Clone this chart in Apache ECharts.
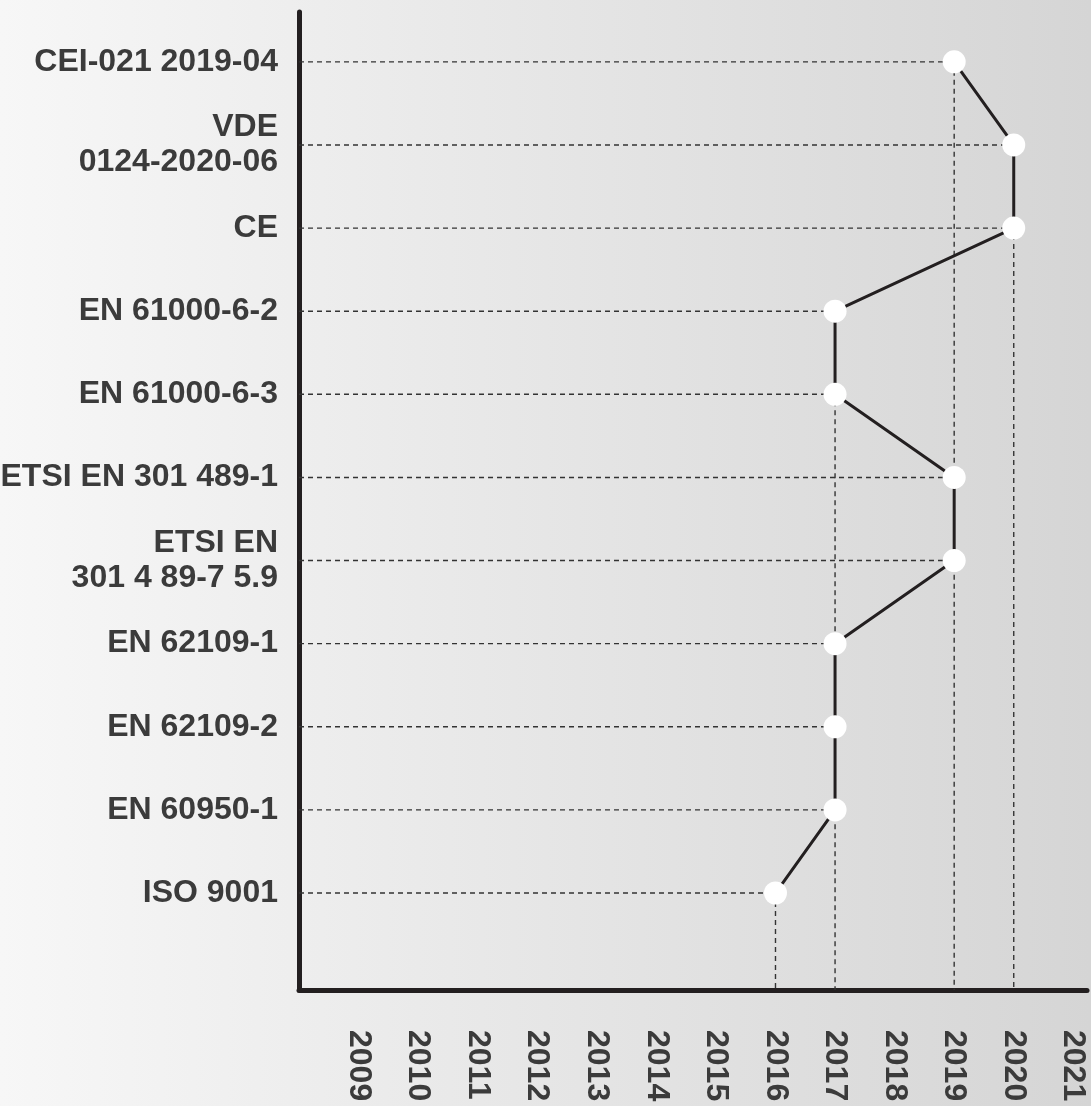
<!DOCTYPE html>
<html>
<head>
<meta charset="utf-8">
<script src="https://cdn.jsdelivr.net/npm/echarts@6/dist/echarts.min.js"></script>
<style>
html,body{margin:0;padding:0;}
#c{width:1091px;height:1106px;}
</style>
</head>
<body>
<div id="c"></div>
<script>
// Standards, from top to bottom
const standards = [
  'CEI-021 2019-04',
  'VDE\n0124-2020-06',
  'CE',
  'EN 61000-6-2',
  'EN 61000-6-3',
  'ETSI EN 301 489-1',
  'ETSI EN\n301 4 89-7 5.9',
  'EN 62109-1',
  'EN 62109-2',
  'EN 60950-1',
  'ISO 9001'
];
// Year of each standard (same order)
const years = [2019, 2020, 2020, 2017, 2017, 2019, 2019, 2017, 2017, 2017, 2016];
// Year tick labels
const yearTicks = [2009, 2010, 2011, 2012, 2013, 2014, 2015, 2016, 2017, 2018, 2019, 2020, 2021];

const xMin = 2008, xMax = 2021.23;
const yMin = -0.167, yMax = 11.6;
const n = standards.length;
// y position index: top item = n, bottom item = 1
const yIdx = standards.map((s, i) => n - i);
const labelMap = {};
standards.forEach((s, i) => { labelMap[yIdx[i]] = s; });

const mainData = years.map((y, i) => [y, yIdx[i]]);

const dashStyle = { color: '#333333', width: 1.4, type: [5, 4] };
const series = [];
// horizontal guides
mainData.forEach(p => {
  series.push({
    type: 'line', silent: true, symbol: 'none', z: 1,
    lineStyle: dashStyle,
    data: [[xMin, p[1]], [p[0], p[1]]]
  });
});
// vertical guides from topmost point of each year
const topOf = {};
mainData.forEach(p => { if (topOf[p[0]] === undefined || p[1] > topOf[p[0]]) topOf[p[0]] = p[1]; });
Object.keys(topOf).forEach(k => {
  const x = Number(k);
  series.push({
    type: 'line', silent: true, symbol: 'none', z: 1,
    lineStyle: dashStyle,
    data: [[x, topOf[k]], [x, yMin]]
  });
});
series.push({
  type: 'line', z: 10,
  data: mainData,
  symbol: 'circle', symbolSize: 23,
  itemStyle: { color: '#ffffff', borderWidth: 0 },
  lineStyle: { color: '#231f20', width: 3 }
});

const chart = echarts.init(document.getElementById('c'));
chart.setOption({
  animation: false,
  backgroundColor: new echarts.graphic.LinearGradient(0, 0, 1, 0, [
    { offset: 0, color: '#f7f7f7' },
    { offset: 1, color: '#d5d5d5' }
  ]),
  grid: { left: 299, right: 4, top: 12, bottom: 116, containLabel: false, outerBoundsMode: 'none' },
  xAxis: {
    type: 'value', min: xMin, max: xMax,
    splitLine: { show: false },
    axisTick: { show: false },
    axisLine: { show: true, onZero: false, lineStyle: { color: '#231f20', width: 5 } },
    axisLabel: {
      customValues: yearTicks,
      formatter: v => String(v),
      rotate: -90, margin: 40,
      fontFamily: 'Liberation Sans', fontWeight: 'bold', fontSize: 32,
      color: '#3b3b3b'
    }
  },
  yAxis: {
    type: 'value', min: yMin, max: yMax,
    splitLine: { show: false },
    axisTick: { show: false },
    axisLine: { show: true, onZero: false, lineStyle: { color: '#231f20', width: 5 } },
    axisLabel: {
      customValues: yIdx.slice(),
      formatter: v => labelMap[Math.round(v)] || '',
      margin: 21, align: 'right',
      fontFamily: 'Liberation Sans', fontWeight: 'bold', fontSize: 32, lineHeight: 35,
      color: '#3b3b3b'
    }
  },
  series: series
});
</script>
</body>
</html>
